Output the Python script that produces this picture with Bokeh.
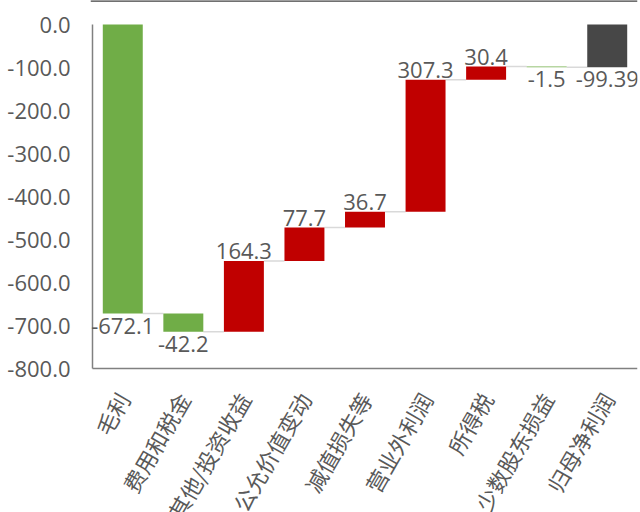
import math
from bokeh.plotting import figure
from bokeh.models import ColumnDataSource, FixedTicker, Range1d
from bokeh.core.properties import value as val
from bokeh.embed import file_html
from bokeh.resources import INLINE

categories = ["毛利", "费用和税金", "其他/投资收益", "公允价值变动", "减值损失等",
              "营业外利润", "所得税", "少数股东损益", "归母净利润"]
values = [-672.1, -42.2, 164.3, 77.7, 36.7, 307.3, 30.4, -1.5, -99.39]
value_labels = ["-672.1", "-42.2", "164.3", "77.7", "36.7", "307.3", "30.4", "-1.5", "-99.39"]
y_ticks = [0, -100, -200, -300, -400, -500, -600, -700, -800]

GREEN = "#70AD47"
RED = "#C00000"
TOTAL = "#474747"
AXIS = "#808080"
TEXT = "#595959"

Y_MIN, Y_MAX = -800, 0
PX_PER_UNIT = 344 / 800.0      # plot area 344 px tall for the 800 value span
LABEL_ROOM = 144               # px below the value axis for category labels
TOP_ROOM = 24                  # px above the 0 line
X0, X1 = -0.533, 8.5

xs, bottoms, tops, colors, ends = [], [], [], [], []
running = 0.0
n = len(values)
for i, v in enumerate(values):
    if i == n - 1:
        start, end = 0.0, v
        col = TOTAL
    else:
        start, end = running, running + v
        col = RED if v > 0 else GREEN
        running = end
    xs.append(i)
    bottoms.append(min(start, end))
    tops.append(max(start, end))
    colors.append(col)
    ends.append(end)

src = ColumnDataSource(dict(x=xs, bottom=bottoms, top=tops, color=colors))

y_top = Y_MAX + TOP_ROOM / PX_PER_UNIT
p = figure(width=640, height=512, output_backend="svg", toolbar_location=None,
           x_range=Range1d(X0, X1),
           y_range=Range1d(Y_MIN - LABEL_ROOM / PX_PER_UNIT, y_top),
           min_border_left=90, min_border_right=3, min_border_top=0,
           min_border_bottom=0)
p.outline_line_color = None
p.xgrid.grid_line_color = None
p.ygrid.grid_line_color = None
p.xaxis.visible = False

# thin dark rule at the very top
p.line([X0, X1], [y_top, y_top], line_color="#404040", line_width=2.5)

# axis lines (drawn so that the value axis stops at -800)
p.line([-0.5, -0.5], [Y_MAX, Y_MIN], line_color=AXIS, line_width=1.5)
p.line([-0.5, X1], [Y_MIN, Y_MIN], line_color=AXIS, line_width=1.5)

# connectors
for i in range(n - 1):
    lvl = ends[i]
    p.line([i + 0.33, i + 1 - 0.33], [lvl, lvl], line_color="#d9d9d9", line_width=1.5)

p.vbar(x="x", bottom="bottom", top="top", width=0.66, fill_color="color",
       line_color=None, source=src)

# data labels
above_x, above_y, above_t = [], [], []
below_x, below_y, below_t = [], [], []
for i, v in enumerate(values):
    if v > 0:
        above_x.append(i); above_y.append(tops[i]); above_t.append(value_labels[i])
    else:
        below_x.append(i); below_y.append(bottoms[i]); below_t.append(value_labels[i])

p.text(x=above_x, y=above_y, text=above_t, text_align="center", text_baseline="bottom",
       y_offset=-2, text_font=val("Open Sans"), text_font_size="22px", text_color=TEXT)
p.text(x=below_x, y=below_y, text=below_t, text_align="center", text_baseline="top",
       y_offset=4, text_font=val("Open Sans"), text_font_size="22px", text_color=TEXT)

# category labels, rotated
p.text(x=list(range(n)), y=[Y_MIN] * n, text=categories,
       angle=math.radians(60), text_align="right", text_baseline="middle",
       y_offset=26, text_font=val("Noto Sans CJK SC"), text_font_size="22px",
       text_color=TEXT)

p.yaxis.ticker = FixedTicker(ticks=y_ticks)
p.yaxis.major_label_overrides = {t: f"{t:.1f}" for t in y_ticks}
p.yaxis.major_tick_line_color = None
p.yaxis.minor_tick_line_color = None
p.yaxis.axis_line_color = None
p.yaxis.major_label_text_font = "Open Sans"
p.yaxis.major_label_text_font_size = "22px"
p.yaxis.major_label_text_color = TEXT
p.yaxis.major_label_standoff = 14

open("out.html", "w").write(file_html(p, INLINE))
